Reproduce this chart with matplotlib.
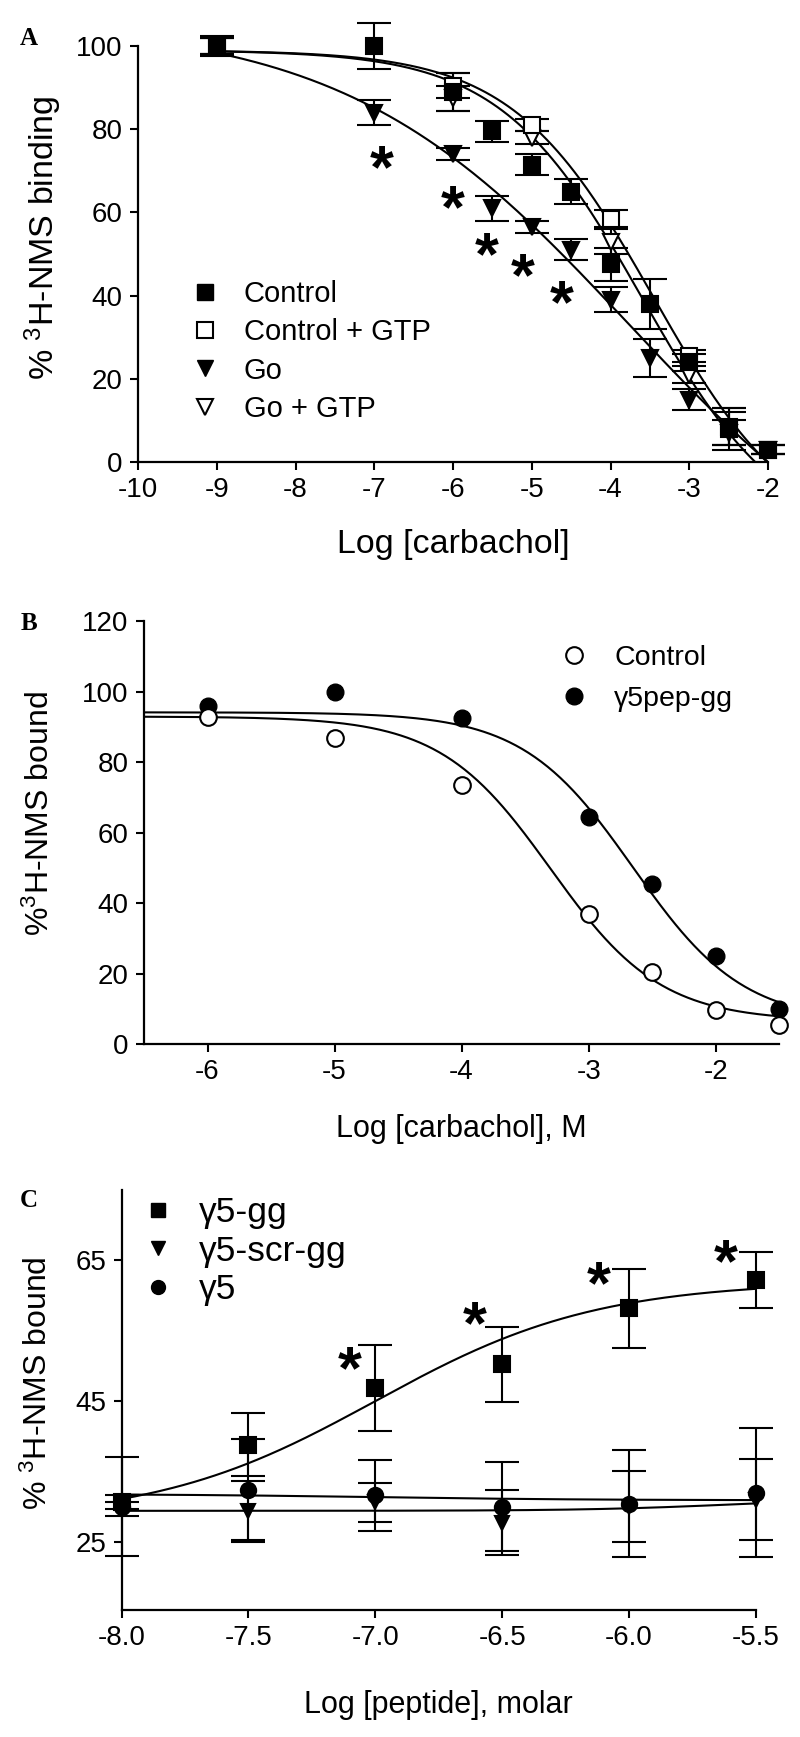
import numpy as np
import matplotlib
matplotlib.use("Agg")
import matplotlib.pyplot as plt
from matplotlib.lines import Line2D

plt.rcParams['font.family'] = ['Liberation Sans', 'DejaVu Sans']
plt.rcParams['mathtext.fontset'] = 'custom'
plt.rcParams['mathtext.rm'] = 'Liberation Sans'
plt.rcParams['mathtext.it'] = 'Liberation Sans:italic'
plt.rcParams['axes.unicode_minus'] = False

# ---- panel A data ----
a_x = [-9, -7, -6, -5.5, -5, -4.5, -4, -3.5, -3, -2.5, -2]
ctrl_y = [100, 100, 89, 79.5, 71.5, 65, 47.5, 38, 24, 8, 3]
ctrl_err = [2.5, 5.5, 4.5, 2.5, 2.5, 3, 4, 6, 2, 5, 1]
go_y = [100, 84, 74, 61, 56.5, 51, 39, 25, 15, 7, 3]
go_err = [2, 3, 1.5, 3, 1.5, 2.5, 3, 4.5, 2.5, 3, 1]
gtp_x = [-9, -6, -5, -4, -3, -2.5, -2]
ctrl_gtp_y = [100, 90.5, 81, 58.5, 25.5, 8.5, 3]
ctrl_gtp_err = [2, 3, 1.5, 2, 1.5, 4.5, 1]
go_gtp_y = [100, 87.5, 78, 53, 21, 8, 3]
go_gtp_err = [2, 3, 1.5, 3, 2, 4, 1]
# fitted curves: top, bottom, logEC50, hill
ctrl_gtp_fit = (99, -20, -3.45, 0.483)
go_gtp_fit = (99, -20, -3.6, 0.483)
go_fit = (106, -40, -3.76, 0.24)
a_star_x = [-6.91, -6.0, -5.57, -5.11, -4.62]
a_star_y = [74.5, 64.7, 53.4, 48.4, 42]

# ---- panel B data ----
b_x = [-6, -5, -4, -3, -2.5, -2, -1.5]
b_ctrl = [93, 87, 73.5, 37, 20.5, 9.5, 5.5]
b_pep = [96, 100, 92.5, 64.5, 45.5, 25, 10]
b_ctrl_fit = (93, 6.5, -3.3, 1.0)
b_pep_fit = (94.2, 6, -2.65, 1.0)

# ---- panel C data ----
c_x = [-8, -7.5, -7, -6.5, -6, -5.5]
gg_y = [30.6, 38.8, 46.9, 50.2, 58.2, 62.2]
gg_err = [1, 4.5, 6.1, 5.4, 5.6, 4]
scr_y = [29.6, 29.4, 30.6, 27.7, 30.0, 31.0]
scr_err = [1, 4.2, 2.8, 4.6, 5.1, 5.7]
g5_y = [30.0, 32.3, 31.6, 30.0, 30.4, 32.0]
g5_err = [7, 7.3, 5, 6.3, 7.6, 9.2]
gg_fit = (62, 28, -7.0, 1.0)
g5_fit = (30.9, 31.8, -7.0, 1.0)
scr_fit = (31.2, 29.4, -5.6, 1.5)
c_star_x = [-7.10, -6.61, -6.12, -5.62]
c_star_y = [51.8, 58.2, 63.8, 67]


def logistic(x, p):
    top, bottom, ec50, hill = p
    return bottom + (top - bottom) / (1 + 10 ** ((x - ec50) * hill))


def rising(x, p):
    top, bottom, ec50, hill = p
    return bottom + (top - bottom) / (1 + 10 ** ((ec50 - x) * hill))


def style_axes(ax):
    for s in ['top', 'right']:
        ax.spines[s].set_visible(False)
    for s in ['left', 'bottom']:
        ax.spines[s].set_linewidth(1.6)
    ax.tick_params(direction='out', length=6, width=1.5, labelsize=20, pad=5)


def ebar(ax, x, y, e, marker, mfc, ms=11):
    ax.errorbar(x, y, yerr=e, fmt=marker, color='k', mfc=mfc, mec='k', mew=1.5,
                ms=ms, capsize=12, capthick=1.5, elinewidth=1.5, clip_on=False)


def stars(ax, xs, ys):
    for x, y in zip(xs, ys):
        ax.annotate('*', (x, y), xytext=(0, -25), textcoords='offset points',
                    ha='center', va='baseline', fontsize=44, fontweight='bold')


fig = plt.figure(figsize=(8, 17.37), dpi=100)

# ================= A =================
ax = fig.add_axes([0.1725, 0.734, 0.7875, 0.2395])
style_axes(ax)
xx = np.linspace(-9, -2, 300)
for p in [ctrl_gtp_fit, go_gtp_fit, go_fit]:
    ax.plot(xx, logistic(xx, p), color='k', lw=1.5)
ebar(ax, gtp_x, go_gtp_y, go_gtp_err, 'v', 'white')
ebar(ax, gtp_x, ctrl_gtp_y, ctrl_gtp_err, 's', 'white')
ebar(ax, a_x, go_y, go_err, 'v', 'k')
ebar(ax, a_x, ctrl_y, ctrl_err, 's', 'k')
stars(ax, a_star_x, a_star_y)
ax.set_xlim(-10, -2)
ax.set_ylim(0, 100)
ax.set_xticks(np.arange(-10, -1, 1))
ax.set_yticks(np.arange(0, 101, 20))
ax.set_xlabel('Log [carbachol]', fontsize=24.5)
ax.set_ylabel(r'% $^{\mathregular{3}}$H-NMS binding', fontsize=24.5)
ax.xaxis.set_label_coords(0.5, -0.16)
ax.yaxis.set_label_coords(-0.117, 0.54)
handles = [Line2D([], [], marker='s', ls='none', color='k', mfc='k', ms=11),
           Line2D([], [], marker='s', ls='none', color='k', mfc='white', ms=11, mew=1.5),
           Line2D([], [], marker='v', ls='none', color='k', mfc='k', ms=11),
           Line2D([], [], marker='v', ls='none', color='k', mfc='white', ms=11, mew=1.5)]
ax.legend(handles, ['Control', 'Control + GTP', 'Go', 'Go + GTP'], loc='upper left',
          bbox_to_anchor=(0.0825, 0.437), frameon=False, fontsize=21, handlelength=1.0,
          handletextpad=0.85, labelspacing=0.35, borderpad=0, borderaxespad=0)
fig.text(0.036, 0.978, 'A', fontsize=18, fontweight='bold', family='Liberation Serif',
         ha='center', va='center')

# ================= B =================
ax = fig.add_axes([0.18, 0.399, 0.794, 0.2432])
style_axes(ax)
xx = np.linspace(-6.5, -1.5, 300)
ax.plot(xx, logistic(xx, b_ctrl_fit), color='k', lw=1.5)
ax.plot(xx, logistic(xx, b_pep_fit), color='k', lw=1.5)
ax.plot(b_x, b_pep, 'o', color='k', mfc='k', ms=12, clip_on=False)
ax.plot(b_x, b_ctrl, 'o', color='k', mfc='white', ms=12, mew=1.5, clip_on=False)
ax.set_xlim(-6.5, -1.5)
ax.set_ylim(0, 120)
ax.set_xticks(np.arange(-6, -1, 1))
ax.set_yticks(np.arange(0, 121, 20))
ax.set_xlabel('Log [carbachol], M', fontsize=22)
ax.set_ylabel(r'%$^{\mathregular{3}}$H-NMS bound', fontsize=23)
ax.xaxis.set_label_coords(0.5, -0.165)
ax.yaxis.set_label_coords(-0.139, 0.545)
handles = [Line2D([], [], marker='o', ls='none', color='k', mfc='white', ms=12, mew=1.5),
           Line2D([], [], marker='o', ls='none', color='k', mfc='k', ms=12)]
ax.legend(handles, ['Control', 'γ5pep-gg'], loc='upper left',
          bbox_to_anchor=(0.655, 0.945), frameon=False, fontsize=20.5, handlelength=1.0,
          handletextpad=0.9, labelspacing=0.55, borderpad=0, borderaxespad=0)
fig.text(0.036, 0.641, 'B', fontsize=18, fontweight='bold', family='Liberation Serif',
         ha='center', va='center')

# ================= C =================
ax = fig.add_axes([0.152, 0.0731, 0.793, 0.2418])
style_axes(ax)
xx = np.linspace(-8, -5.5, 300)
ax.plot(xx, rising(xx, gg_fit), color='k', lw=1.5)
ax.plot(xx, rising(xx, g5_fit), color='k', lw=1.5)
ax.plot(xx, rising(xx, scr_fit), color='k', lw=1.5)
ebar(ax, c_x, scr_y, scr_err, 'v', 'k', ms=10)
ebar(ax, c_x, g5_y, g5_err, 'o', 'k', ms=11)
ebar(ax, c_x, gg_y, gg_err, 's', 'k', ms=11)
stars(ax, c_star_x, c_star_y)
ax.set_xlim(-8, -5.5)
ax.set_ylim(15.3, 75)
ax.set_xticks(np.arange(-8, -5.4, 0.5))
ax.set_xticklabels(['%.1f' % v for v in np.arange(-8, -5.4, 0.5)])
ax.set_yticks([25, 45, 65])
ax.set_xlabel('Log [peptide], molar', fontsize=22)
ax.set_ylabel(r'% $^{\mathregular{3}}$H-NMS bound', fontsize=23)
ax.xaxis.set_label_coords(0.5, -0.19)
ax.yaxis.set_label_coords(-0.106, 0.54)
handles = [Line2D([], [], marker='s', ls='none', color='k', ms=10),
           Line2D([], [], marker='v', ls='none', color='k', ms=10),
           Line2D([], [], marker='o', ls='none', color='k', ms=10)]
ax.legend(handles, ['γ5-gg', 'γ5-scr-gg', 'γ5'], loc='upper left',
          bbox_to_anchor=(0.035, 0.985), frameon=False, fontsize=25.5, handlelength=0.8,
          handletextpad=0.75, labelspacing=0.15, borderpad=0, borderaxespad=0)
fig.text(0.036, 0.309, 'C', fontsize=18, fontweight='bold', family='Liberation Serif',
         ha='center', va='center')

fig.savefig('out.png', dpi=100)
